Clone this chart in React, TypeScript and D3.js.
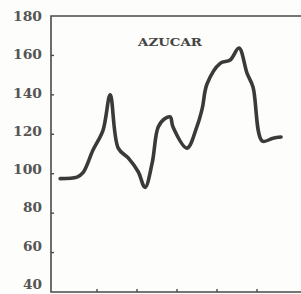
import React, { useRef, useEffect } from "react";
import * as d3 from "d3";

// time position (years from start) and price index
const xs = [0.08, 0.5, 0.65, 0.9, 1.15, 1.33, 1.53, 1.78, 2.03, 2.2, 2.38, 2.53, 2.7, 2.83, 2.9, 3.25, 3.5, 3.63, 3.75, 4.08, 4.33, 4.55, 4.75, 4.9, 5.13, 5.4, 5.6];
const ys = [97.5, 98.3, 100.5, 112, 122, 140, 113, 108, 101, 93, 105.5, 123.7, 128, 128.8, 123.7, 113, 124, 133, 145.5, 156, 157.7, 163.8, 151, 144, 116.6, 118, 118.6];
const yTicks = [40, 60, 80, 100, 120, 140, 160, 180];
const xTicks = [1, 2, 3, 4, 5];
const title = "AZUCAR";

const W = 301;
const H = 294;

const App: React.FC = () => {
  const svgRef = useRef<SVGSVGElement>(null);

  useEffect(() => {
    if (!svgRef.current) return;
    const svg = d3.select(svgRef.current);
    svg.selectAll("*").remove();

    const left = 51;
    const top = 16;
    const bottom = 292;

    const x = d3.scaleLinear().domain([-0.15, 6.1]).range([left, W]);
    const y = d3.scaleLinear().domain([40, 180]).range([bottom, top]);

    svg.append("rect").attr("width", W).attr("height", H).attr("fill", "#fdfdfb");

    const ink = "#4a4a4a";

    // frame: left axis, top line, bottom axis
    svg.append("path")
      .attr("d", `M${W},${top}H${left}V${bottom}H${W}`)
      .attr("fill", "none")
      .attr("stroke", ink)
      .attr("stroke-width", 1.6);

    // y ticks
    svg.selectAll(".yt")
      .data(yTicks.slice(1, -1))
      .enter()
      .append("line")
      .attr("x1", left)
      .attr("x2", left + 3)
      .attr("y1", (d) => y(d))
      .attr("y2", (d) => y(d))
      .attr("stroke", ink)
      .attr("stroke-width", 1.4);

    // labels drift a little above their ticks lower down the scan
    svg.selectAll(".yl")
      .data(yTicks)
      .enter()
      .append("text")
      .attr("x", 42)
      .attr("y", (d) => y(d) + 5 - ((180 - d) / 140) * 8)
      .attr("text-anchor", "end")
      .attr("textLength", (d) => (d >= 100 ? 29 : 19))
      .attr("lengthAdjust", "spacingAndGlyphs")
      .attr("font-family", "DejaVu Serif")
      .attr("font-weight", "bold")
      .attr("font-size", 12)
      .attr("fill", "#555")
      .text((d) => d);

    // x ticks
    svg.selectAll(".xt")
      .data(xTicks)
      .enter()
      .append("line")
      .attr("x1", (d) => x(d))
      .attr("x2", (d) => x(d))
      .attr("y1", bottom)
      .attr("y2", bottom - 3)
      .attr("stroke", ink)
      .attr("stroke-width", 1.4);

    svg.append("text")
      .attr("x", 170)
      .attr("y", 46)
      .attr("text-anchor", "middle")
      .attr("textLength", 64)
      .attr("lengthAdjust", "spacingAndGlyphs")
      .attr("font-family", "DejaVu Serif")
      .attr("font-weight", "bold")
      .attr("font-size", 11)
      .attr("fill", "#444")
      .text(title);

    const pts = xs.map((v, i) => [v, ys[i]] as [number, number]);
    const line = d3
      .line<[number, number]>()
      .x((d) => x(d[0]))
      .y((d) => y(d[1]))
      .curve(d3.curveCatmullRom.alpha(0.5));

    svg.append("path")
      .datum(pts)
      .attr("d", line)
      .attr("fill", "none")
      .attr("stroke", "#3a3a3a")
      .attr("stroke-width", 3.6)
      .attr("stroke-linejoin", "round")
      .attr("stroke-linecap", "round");
  }, []);

  return (
    <div style={{ position: "fixed", left: 0, top: 0 }}>
      <svg ref={svgRef} width={W} height={H} style={{ display: "block" }} />
    </div>
  );
};

export default App;
